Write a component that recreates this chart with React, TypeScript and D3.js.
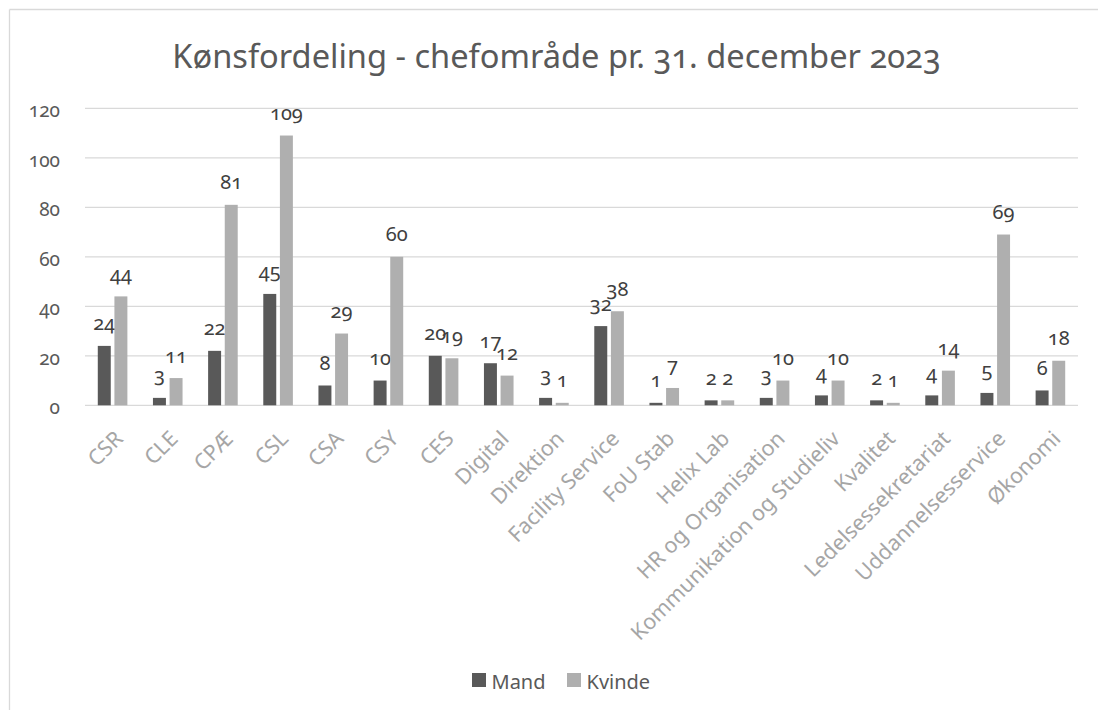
import React from "react";
import * as d3 from "d3";

const categories = [
  "CSR", "CLE", "CPÆ", "CSL", "CSA", "CSY", "CES", "Digital", "Direktion",
  "Facility Service", "FoU Stab", "Helix Lab", "HR og Organisation",
  "Kommunikation og Studieliv", "Kvalitet", "Ledelsessekretariat",
  "Uddannelsesservice", "Økonomi",
];
const mand = [24, 3, 22, 45, 8, 10, 20, 17, 3, 32, 1, 2, 3, 4, 2, 4, 5, 6];
const kvinde = [44, 11, 81, 109, 29, 60, 19, 12, 1, 38, 7, 2, 10, 10, 1, 14, 69, 18];
const seriesNames = ["Mand", "Kvinde"];
const yTicks = [0, 20, 40, 60, 80, 100, 120];
const title = "Kønsfordeling - chefområde pr. 31. december 2023";

const W = 1098;
const H = 710;
const FONT = "'Noto Sans', 'Open Sans', sans-serif";
const colors: Record<string, string> = { Mand: "#595959", Kvinde: "#afafaf" };

export default function App() {
  const x0 = d3.scaleBand<string>().domain(categories).range([85, 1078]);
  const x1 = d3.scaleBand<string>().domain(seriesNames).range([-14.8, 14.8]).paddingInner(0.22);
  const y = d3.scaleLinear().domain([0, 120]).range([405.3, 108.3]);
  const values: Record<string, number[]> = { Mand: mand, Kvinde: kvinde };
  const numStyle: React.CSSProperties = { fontVariantNumeric: "oldstyle-nums" };

  return (
    <svg width={W} height={H} style={{ position: "absolute", left: 0, top: 0, background: "#fff" }} fontFamily={FONT}>
      <rect x={0} y={0} width={W} height={H} fill="#fff" />
      <line x1={9.5} y1={9.5} x2={W} y2={9.5} stroke="#d9d9d9" strokeWidth={1.3} />
      <line x1={9.5} y1={9.5} x2={9.5} y2={H} stroke="#d9d9d9" strokeWidth={1.3} />

      <text x={556.5} y={68} textAnchor="middle" fontSize={32.6} fill="#595959" style={numStyle}>
        {title}
      </text>

      {yTicks.map((t) => (
        <g key={t}>
          <line x1={85} x2={1078} y1={y(t)} y2={y(t)} stroke="#d9d9d9" strokeWidth={1.3} />
          <text x={60} y={y(t) + 9} textAnchor="end" fontSize={19} fill="#595959" style={numStyle}>
            {t}
          </text>
        </g>
      ))}

      {categories.map((c, i) => {
        const cx = (x0(c) as number) + x0.bandwidth() / 2;
        return (
          <g key={c}>
            {seriesNames.map((s) => {
              const v = values[s][i];
              const bx = cx + (x1(s) as number);
              const bw = x1.bandwidth();
              return (
                <g key={s}>
                  <rect x={bx} y={y(v)} width={bw} height={y(0) - y(v)} fill={colors[s]} />
                  <text x={bx + bw / 2} y={y(v) - 15.5} textAnchor="middle" fontSize={20} fill="#404040" style={numStyle}>
                    {v}
                  </text>
                </g>
              );
            })}
            <text
              transform={`translate(${cx + 11.5},${440}) rotate(-45)`}
              textAnchor="end"
              fontSize={21.5}
              fill="#a6a6a6"
            >
              {c}
            </text>
          </g>
        );
      })}

      {seriesNames.map((s, i) => {
        const lx = [472, 567][i];
        return (
          <g key={s}>
            <rect x={lx} y={673} width={14} height={14} fill={colors[s]} />
            <text x={lx + 19.5} y={689} fontSize={20} fill="#595959">
              {s}
            </text>
          </g>
        );
      })}
    </svg>
  );
}
